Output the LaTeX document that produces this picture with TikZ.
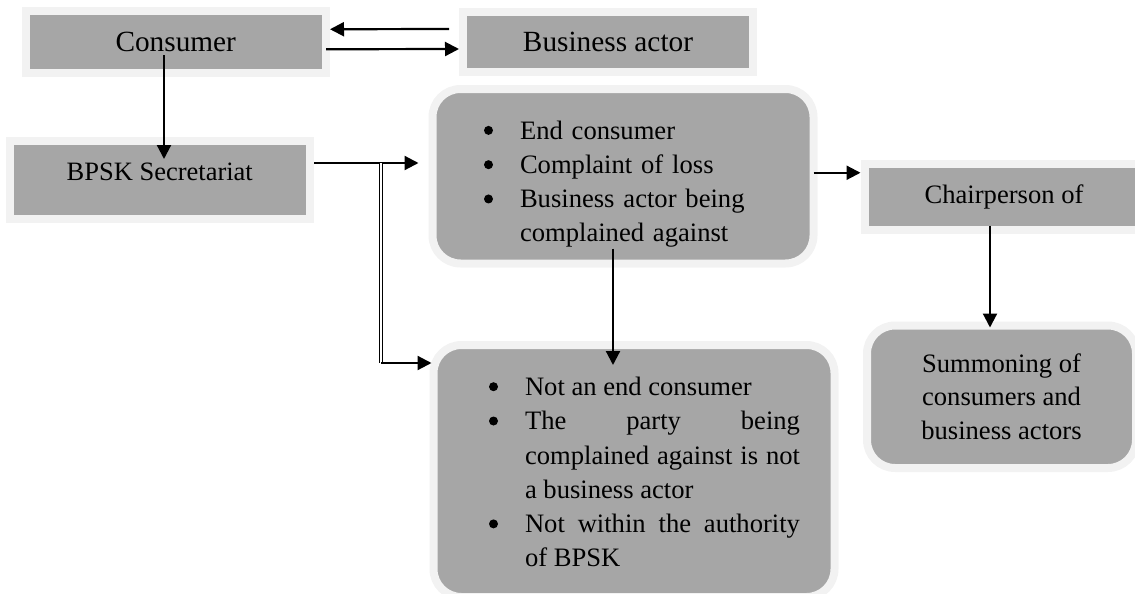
\documentclass[tikz,border=0pt]{standalone}
\usepackage{fontspec}
\setmainfont{Liberation Serif}
\usetikzlibrary{arrows.meta,calc}
\definecolor{boxgrey}{HTML}{A6A6A6}
\definecolor{rimgrey}{HTML}{F2F2F2}
\newcommand{\critem}{\par\noindent\hangindent=38pt\hangafter=1%
  \makebox[38pt][l]{\hspace{2pt}\tikz[baseline=0pt]\fill[black] (4.5pt,8.7pt) circle[radius=4.5pt];}}

\begin{document}
\begin{tikzpicture}[
  x=1pt, y=-1pt,
  box/.style={draw=rimgrey, line width=8pt, fill=boxgrey, inner sep=0pt,
              align=center, font=\fontsize{26.6}{34.3}\selectfont},
  roundbox/.style={box, rounded corners=28pt},
  arr/.style={-{Triangle[length=14pt,width=14pt]}, line width=2.2pt},
  twinline/.style={double=white, double distance=1.2pt, line width=1.4pt}
]
  \useasboundingbox (0,0) rectangle (1135,594);

  % parties
  \node[box, minimum width=300.5pt, minimum height=61.5pt,
        font=\fontsize{29.3}{34}\selectfont] (cons) at (175.75,42.25) {Consumer};
  \node[box, minimum width=290pt, minimum height=60pt,
        font=\fontsize{29.3}{34}\selectfont] (ba) at (608,42) {Business actor};
  \node[box, minimum width=300.5pt, minimum height=78pt, text depth=16pt,
        font=\fontsize{26.5}{30}\selectfont] (bpsk) at (159.75,180) {BPSK Secretariat};

  % checks on the complaint
  \node[roundbox, minimum width=381pt, minimum height=174.5pt,
        text width=282pt, align=left] (crit) at (623,176.25)
    {\critem\rule{0pt}{30pt}End consumer
     \critem Complaint of loss
     \critem Business actor being\newline complained against\par};
  \node[roundbox, minimum width=401pt, minimum height=252pt,
        text width=332pt, align=justify] (notc) at (634,471)
    {\leftskip=19pt
     \critem Not an end consumer
     \critem The party being\linebreak complained against is not a business actor
     \critem Not within the authority\linebreak of BPSK\rule[-14pt]{0pt}{14pt}\par};

  \node[box, minimum width=279pt, minimum height=65.5pt] (chair) at (1004,196.75) {Chairperson of};
  \node[roundbox, minimum width=269pt, minimum height=142.5pt,
        font=\fontsize{26.6}{33.5}\selectfont] (summ) at (1001.5,396.75)
    {Summoning of\\consumers and\\business actors};

  % arrows
  \draw[arr] ([xshift=-10pt,yshift=13pt]ba.west) -- ([yshift=13pt]cons.east);
  \draw[arr] ([xshift=-4pt,yshift=-7pt]cons.east) -- ([yshift=-7pt]ba.west);
  \draw[arr] ($(cons.center)+(-11.75pt,-13pt)$) -- ($(cons.center |- bpsk.north)+(-11.75pt,-22pt)$);
  \draw[arr] ([yshift=17pt]bpsk.east) -- ([xshift=-10pt,yshift=17pt]bpsk.east -| crit.west);

  \coordinate (fork) at ([xshift=67pt,yshift=17pt]bpsk.east);
  \coordinate (bend) at ([yshift=108pt]fork |- notc.west);
  \draw[twinline] (fork) -- (bend);
  \draw[arr] (bend) -- ([xshift=2pt]bend -| notc.west);

  \draw[arr] ([xshift=-10pt,yshift=19pt]crit.south) -- ([xshift=-10pt,yshift=-24pt]crit.south |- notc.north);
  \draw[arr] ([xshift=-4pt,yshift=24pt]crit.east |- chair.west) -- ([yshift=24pt]chair.west);
  \draw[arr] ([xshift=-14pt,yshift=8pt]chair.south) -- ([xshift=-14pt,yshift=-6pt]chair.south |- summ.north);
\end{tikzpicture}
\end{document}
